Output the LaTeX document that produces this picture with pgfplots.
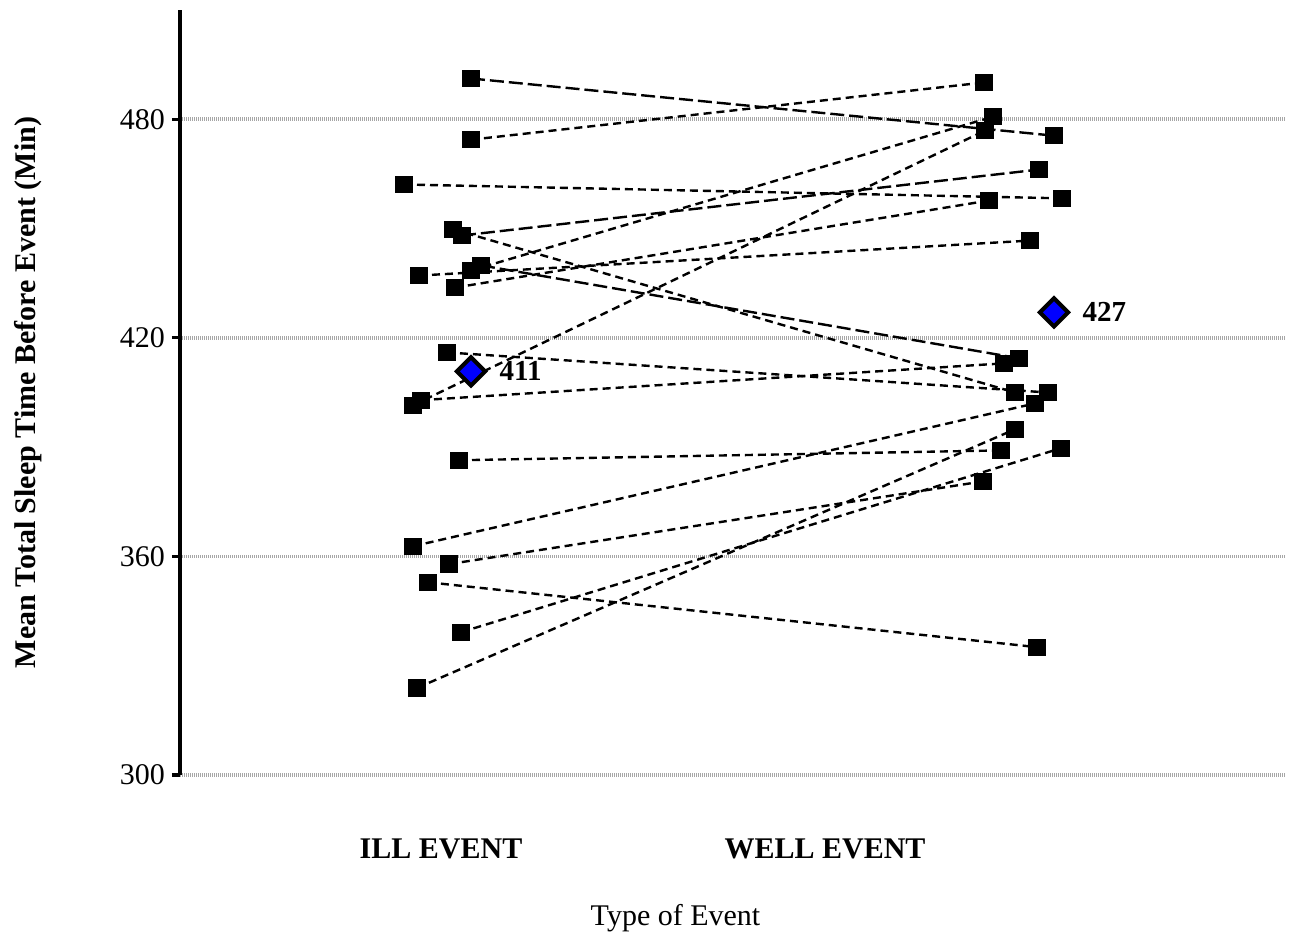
\documentclass[border=0pt]{standalone}
\usepackage{fontspec}
\setmainfont{Liberation Serif}
\usepackage{pgfplots}
\pgfplotsset{compat=1.18}
\pgfplotsset{pair/.style={black, line width=1.2pt, dash pattern=on 4pt off 2.5pt, mark=square*, mark size=3.7pt, mark options={solid, fill=black, draw=black}}}
\begin{document}
\begin{tikzpicture}
\path (-90pt,-81.5pt) rectangle (555pt,387.5pt);
\begin{axis}[
  at={(0,0)}, anchor=south west,
  scale only axis, width=552.5pt, height=382.5pt,
  xmin=180, xmax=1285, ymin=300, ymax=510,
  clip=false,
  axis y line*=left, axis x line*=bottom,
  x axis line style={draw=none},
  y axis line style={line width=2pt,-},
  ytick={300,360,420,480},
  ymajorgrids,
  major grid style={black!35, line width=1.8pt, dash pattern=on 0.6pt off 0.4pt},
  tick align=outside, major tick length=4pt,
  ytick style={line width=1.6pt, black},
  xtick style={draw=none},
  xtick={441,825}, xticklabels={ILL EVENT, WELL EVENT},
  xticklabel style={font=\bfseries\fontsize{15}{15}\selectfont, yshift=-24.5pt},
  yticklabel style={font=\fontsize{15}{15}\selectfont},
  /pgf/number format/assume math mode=true,
  xlabel={Type of Event},
  ylabel={Mean Total Sleep Time Before Event (Min)},
  every axis x label/.style={at={(axis description cs:0.5,0)}, anchor=center, xshift=-28.5pt, yshift=-71.5pt, font=\fontsize{15}{15}\selectfont},
  every axis y label/.style={at={(axis description cs:0,0.5)}, xshift=-76pt, rotate=90, anchor=center, font=\bfseries\fontsize{15}{15}\selectfont},
]
\addplot[pair, dash pattern=on 7pt off 2.5pt] coordinates {(471,491.2) (1054,475.5)};
\addplot[pair] coordinates {(471,474.4) (984,490.1)};
\addplot[pair] coordinates {(404,462.1) (1062,458.3)};
\addplot[pair] coordinates {(453,449.8) (1015,405.0)};
\addplot[pair, dash pattern=on 7pt off 2.5pt] coordinates {(462,448.1) (1039,466.2)};
\addplot[pair] coordinates {(419,437.1) (1030,446.7)};
\addplot[pair] coordinates {(471,438.5) (993,480.7)};
\addplot[pair, dash pattern=on 7pt off 2.5pt] coordinates {(481,439.9) (1019,414.4)};
\addplot[pair] coordinates {(455,433.8) (989,457.7)};
\addplot[pair] coordinates {(447,416.0) (1048,405.0)};
\addplot[pair] coordinates {(413,401.5) (985,476.9)};
\addplot[pair] coordinates {(421,402.9) (1004,413.0)};
\addplot[pair] coordinates {(459,386.4) (1001,389.1)};
\addplot[pair] coordinates {(413,362.8) (1035,402.0)};
\addplot[pair] coordinates {(449,357.9) (983,380.6)};
\addplot[pair] coordinates {(428,352.9) (1037,335.1)};
\addplot[pair] coordinates {(461,339.2) (1061,389.7)};
\addplot[pair] coordinates {(417,323.9) (1015,394.9)};
\addplot[only marks, mark=square*, mark size=5pt, mark options={solid, rotate=45, fill=blue, draw=black, line width=2pt},
  nodes near coords, point meta=explicit symbolic,
  nodes near coords style={anchor=west, xshift=10pt, font=\bfseries\fontsize{14.5}{14.5}\selectfont}]
  coordinates {(471,410.8)[411] (1054,427.0)[427]};
\end{axis}
\end{tikzpicture}
\end{document}
